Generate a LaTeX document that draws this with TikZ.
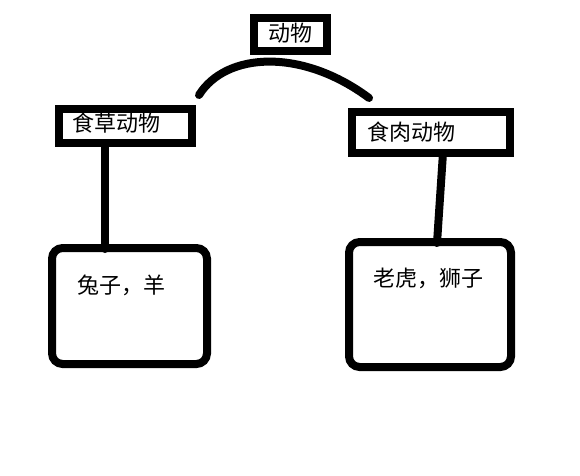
\documentclass[tikz,border=0pt]{standalone}
\usepackage{fontspec}
\newfontfamily\cjk{Noto Sans CJK SC}
\usetikzlibrary{calc}

\begin{document}
\begin{tikzpicture}[x=0.75pt,y=-0.75pt,
  box/.style={draw, line width=6pt, rectangle, inner ysep=0pt, font={\cjk\fontsize{16.5}{20}\selectfont}},
  leaf/.style={box, rounded corners=8pt, align=left},
  link/.style={line width=6pt, line cap=round}]
\useasboundingbox (0,0) rectangle (580,475);
\node[box, minimum width=54.75pt, inner xsep=0pt, text height=17.6pt, text depth=7.1pt] (animal) at (290.5,34.5) {动物};
\node[box, align=left, inner xsep=10.5pt, text width=78.4pt, text height=17.6pt, text depth=8.25pt] (herb) at (125.25,125.75) {食草动物};
\node[box, align=left, inner xsep=11.6pt, text width=95.6pt, text height=21.4pt, text depth=9pt] (meat) at (430.75,132.25) {食肉动物};
\node[leaf, inner xsep=18.75pt, text width=78.75pt, text height=33.75pt, text depth=53.25pt] (lleaf) at (129.5,306) {兔子，羊};
\node[leaf, inner xsep=18pt, text width=85.5pt, text height=33pt, text depth=60.75pt] (rleaf) at (430,304.5) {老虎，狮子};

% arc over the top box
\coordinate (archL) at ($(herb.north east)+(3.5,-9.5)$);
\coordinate (archR) at ($(meat.north west)+(21.5,-10)$);
\draw[link] (archL) .. controls ($(animal.south)+(-64.5,-3)$) and ($(animal.south)+(11.5,-7)$) .. (archR);

% stems down to the leaves
\coordinate (herbfoot) at ($(herb.south west)+(50,0)$);
\coordinate (meatfoot) at ($(meat.south)+(12,0)$);
\draw[link] (herbfoot) -- ($(herbfoot |- lleaf.north)+(0,5)$);
\draw[link] (meatfoot) -- ($(rleaf.north)+(7,5)$);

\end{tikzpicture}
\end{document}
